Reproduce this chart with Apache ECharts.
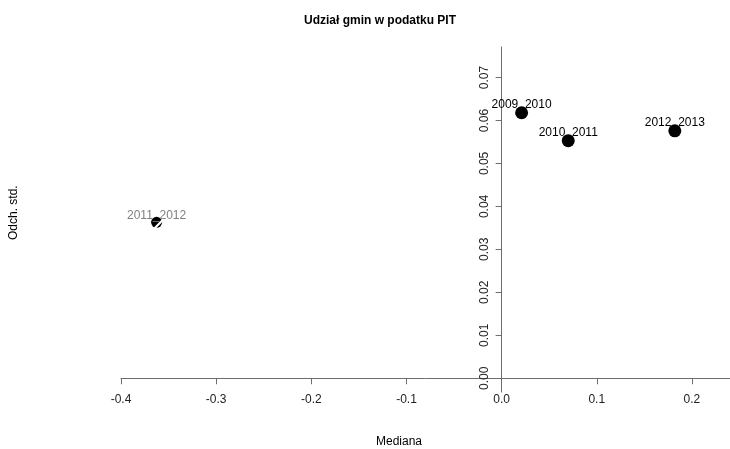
<!DOCTYPE html>
<html>
<head>
<meta charset="utf-8">
<script src="https://cdn.jsdelivr.net/npm/echarts@6/dist/echarts.min.js"></script>
<style>
  html, body { margin: 0; padding: 0; background: #fff; }
  #chart { width: 730px; height: 449px; }
</style>
</head>
<body>
<div id="chart"></div>
<script>
// Periods compared: median change vs standard deviation of the PIT share
const periods = ['2009_2010', '2010_2011', '2012_2013'];
const mediana = [0.021, 0.070, 0.182];
const odchStd = [0.0618, 0.0553, 0.0576];

// Outlying period, drawn hatched with a grey label
const outlierPeriod = ['2011_2012'];
const outlierMediana = [-0.3626];
const outlierOdchStd = [0.0363];

const xTicks = [-0.4, -0.3, -0.2, -0.1, 0.0, 0.1, 0.2];
const yTicks = [0.00, 0.01, 0.02, 0.03, 0.04, 0.05, 0.06, 0.07];

const X_MIN = -0.4, X_MAX = 0.24;
const Y_MIN = -0.0032, Y_MAX = 0.0771;

const FONT = 'Liberation Sans, Arial, sans-serif';
const AXIS_COLOR = '#6e6e6e';

const mainPoints = periods.map((p, i) => ({ name: p, value: [mediana[i], odchStd[i]] }));
const outPoints = outlierPeriod.map((p, i) => ({ name: p, value: [outlierMediana[i], outlierOdchStd[i]] }));

const chart = echarts.init(document.getElementById('chart'), null, { renderer: 'canvas' });
chart.setOption({
  animation: false,
  backgroundColor: '#fff',
  title: {
    text: 'Udział gmin w podatku PIT',
    left: 375, top: 10, textAlign: 'center',
    textStyle: { fontFamily: FONT, fontSize: 12, fontWeight: 'bold', color: '#000' }
  },
  grid: [
    // plotting region, axes cross at the origin
    { left: 121, right: 0, top: 47, bottom: 57, containLabel: false },
    // thin strip along x = 0 that carries the y tick labels
    { left: 502.5, width: 1, top: 47, bottom: 57, containLabel: false }
  ],
  xAxis: [
    {
      type: 'value', min: X_MIN, max: X_MAX, gridIndex: 0,
      axisLine: { onZero: true, lineStyle: { color: AXIS_COLOR, width: 1 } },
      axisTick: { show: true, length: 6, inside: false, lineStyle: { color: AXIS_COLOR }, customValues: xTicks },
      axisLabel: {
        customValues: xTicks, margin: 2, fontFamily: FONT, fontSize: 12, color: '#222',
        formatter: v => v.toFixed(1)
      },
      splitLine: { show: false }
    },
    {
      type: 'value', gridIndex: 1, show: false, min: 0, max: 1
    }
  ],
  yAxis: [
    {
      type: 'value', min: Y_MIN, max: Y_MAX, gridIndex: 0,
      axisLine: { onZero: true, lineStyle: { color: AXIS_COLOR, width: 1 } },
      axisTick: { show: true, length: 6, inside: false, lineStyle: { color: AXIS_COLOR }, customValues: yTicks },
      axisLabel: { show: false },
      splitLine: { show: false }
    },
    {
      type: 'value', min: Y_MIN, max: Y_MAX, gridIndex: 1, position: 'left',
      axisLine: { show: false },
      axisTick: { show: false },
      axisLabel: {
        customValues: yTicks, margin: 12, rotate: 90, fontFamily: FONT, fontSize: 12, color: '#222',
        formatter: v => v.toFixed(2)
      },
      splitLine: { show: false }
    }
  ],
  graphic: [
    {
      type: 'text', left: 376, top: 436,
      style: { text: 'Mediana', font: '12px ' + FONT, fill: '#000' }
    },
    {
      type: 'text', x: 8, y: 240, rotation: Math.PI / 2,
      style: { text: 'Odch. std.', font: '12px ' + FONT, fill: '#000' }
    }
  ],
  series: [
    {
      type: 'scatter', symbol: 'circle', symbolSize: 13,
      xAxisIndex: 0, yAxisIndex: 0,
      itemStyle: { color: '#000', opacity: 1 },
      data: mainPoints,
      label: {
        show: true, position: 'inside', offset: [0, -8],
        formatter: p => p.name, fontFamily: FONT, fontSize: 12, color: '#000'
      },
      z: 3
    },
    {
      type: 'scatter', symbol: 'circle', symbolSize: 11,
      xAxisIndex: 0, yAxisIndex: 0,
      itemStyle: { color: '#000', opacity: 1 },
      data: outPoints,
      label: {
        show: true, position: 'inside', offset: [0, -7],
        formatter: p => p.name, fontFamily: FONT, fontSize: 12, color: '#808080'
      },
      z: 3
    },
    {
      // white diagonal stripe across the outlier marker
      type: 'scatter', symbol: 'rect', symbolSize: [14, 2.2], symbolRotate: 45,
      symbolOffset: [2, 2],
      xAxisIndex: 0, yAxisIndex: 0,
      itemStyle: { color: '#fff', opacity: 1 },
      data: outPoints.map(d => ({ value: d.value })),
      z: 4, silent: true
    }
  ]
});
</script>
</body>
</html>
